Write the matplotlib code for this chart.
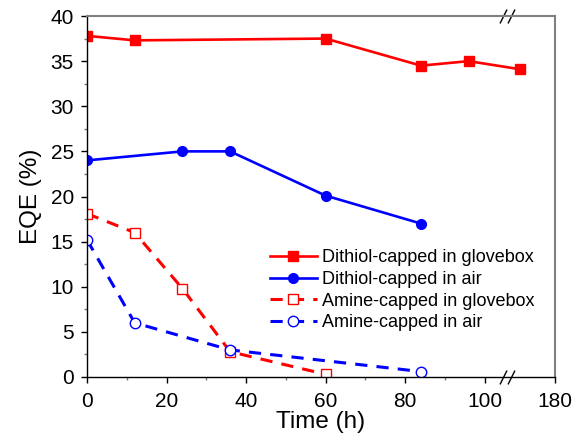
import numpy as np
import matplotlib
matplotlib.use("Agg")
import matplotlib.pyplot as plt
from matplotlib.path import Path

plt.rcParams['font.family'] = ['Liberation Sans', 'DejaVu Sans']

# ---- data ----
t_dithiol_gb = [0, 12, 60, 84, 96, 120]
eqe_dithiol_gb = [37.8, 37.3, 37.5, 34.5, 35.0, 34.1]

t_dithiol_air = [0, 24, 36, 60, 84]
eqe_dithiol_air = [24.0, 25.0, 25.0, 20.1, 17.0]

t_amine_gb = [0, 12, 24, 36, 60]
eqe_amine_gb = [18.1, 16.0, 9.8, 2.8, 0.3]

t_amine_air = [0, 12, 36, 84]
eqe_amine_air = [15.2, 6.0, 3.0, 0.6]

labels = ["Dithiol-capped in glovebox", "Dithiol-capped in air",
          "Amine-capped in glovebox", "Amine-capped in air"]

xticks = [0, 20, 40, 60, 80, 100, 180]
xminor = [10, 30, 50, 70, 90]
yticks = [0, 5, 10, 15, 20, 25, 30, 35, 40]

# broken-axis scale
B = 107.0
K = 0.1466


def fwd(x):
    x = np.asarray(x, dtype=float)
    return np.where(x <= B, x, B + (x - B) * K)


def inv(y):
    y = np.asarray(y, dtype=float)
    return np.where(y <= B, y, B + (y - B) / K)


fig = plt.figure(figsize=(5.75, 4.45), dpi=100)
ax = fig.add_axes([87 / 575, 1 - 377 / 445, (555 - 87) / 575, (377 - 16) / 445])
ax.set_xscale('function', functions=(fwd, inv))

red = '#FF0000'
blue = '#0000FF'

ax.plot(t_dithiol_gb, eqe_dithiol_gb, '-', color=red, lw=1.9, marker='s',
        ms=7, mfc=red, mec=red, label=labels[0])
ax.plot(t_dithiol_air, eqe_dithiol_air, '-', color=blue, lw=1.9, marker='o',
        ms=7, mfc=blue, mec=blue, label=labels[1])
ax.plot(t_amine_gb, eqe_amine_gb, color=red, lw=2.2, ls=(0, (4, 3)),
        marker='s', ms=7.5, mfc='white', mec=red, mew=1.0, label=labels[2])
ax.plot(t_amine_air, eqe_amine_air, color=blue, lw=2.2, ls=(0, (4, 3)),
        marker='o', ms=7.5, mfc='white', mec=blue, mew=1.0, label=labels[3])

ax.set_xlim(0, 180)
ax.set_ylim(0, 40)
ax.set_xticks(xticks)
ax.set_xticks(xminor, minor=True)
ax.set_yticks(yticks)
ax.set_yticks(np.arange(2.5, 40, 5), minor=True)

ax.tick_params(axis='both', which='major', direction='out', length=4.5,
               width=1.0, labelsize=15, color='black')
ax.tick_params(axis='x', which='major', pad=6)
ax.tick_params(axis='y', which='major', pad=5)
ax.tick_params(axis='both', which='minor', direction='out', length=2.5,
               width=1.0, color='#777777')

for s in ['left', 'bottom']:
    ax.spines[s].set_color('black')
    ax.spines[s].set_linewidth(1.0)
for s in ['top', 'right']:
    ax.spines[s].set_color('#808080')
    ax.spines[s].set_linewidth(1.5)

ax.set_xlabel('Time (h)', fontsize=17.5, labelpad=0)
ax.set_ylabel('EQE (%)', fontsize=17.5, labelpad=6)

# break marks
slash = Path([[-0.5, -1.0], [0.5, 1.0]], [Path.MOVETO, Path.LINETO])
for xb in (104.7, 106.6):
    ax.plot([xb, xb], [0, 1], ls='none', marker=slash, ms=10, mew=1.0,
            color='black', transform=ax.get_xaxis_transform(), clip_on=False)

leg = ax.legend(loc='upper left', bbox_to_anchor=(0.375, 0.374), frameon=False,
                fontsize=13, handlelength=2.6, handletextpad=0.3,
                labelspacing=0.26, borderaxespad=0)

fig.savefig('out.png', dpi=100)
